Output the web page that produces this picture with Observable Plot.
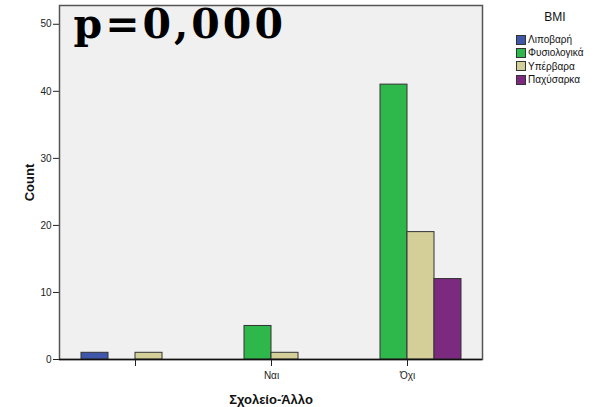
<!DOCTYPE html>
<html>
<head>
<meta charset="utf-8">
<script src="https://cdn.jsdelivr.net/npm/d3@7"></script>
<script src="https://cdn.jsdelivr.net/npm/@observablehq/plot@0.6"></script>
<style>
  html, body { margin: 0; padding: 0; background: #fff; }
  #wrap { position: relative; width: 598px; height: 407px; font-family: "Liberation Sans", Arial, sans-serif; }
  #legend { position: absolute; left: 516px; top: 10px; font-size: 10px; color: #111; }
  #legend .ttl { font-size: 12px; text-align: center; width: 70px; margin-left: 4px; margin-bottom: 9px; }
  #legend .item { display: flex; align-items: center; height: 13.3px; }
  #legend .sw { width: 10px; height: 10px; border: 1px solid #333; margin-right: 2px; box-sizing: border-box; }
  g[aria-label="y-axis label"] text, g[aria-label="x-axis label"] text { font-weight: bold; font-size: 13px; fill: #111; }
  .ptitle text { letter-spacing: 3px; }
</style>
</head>
<body>
<div id="wrap"></div>
<script>
const categories = ["", "Ναι", "Όχι"];
const series = ["Λιποβαρή", "Φυσιολογικά", "Υπέρβαρα", "Παχύσαρκα"];
const colors = ["#3e57ab", "#2eb84b", "#d4cf98", "#7c2a80"];
const underweight = [1, 0, 0];
const normal = [0, 5, 41];
const overweight = [1, 1, 19];
const obese = [0, 0, 12];
const yTicks = [0, 10, 20, 30, 40, 50];
const title = "p=0,000";

const seriesValues = [underweight, normal, overweight, obese];
const rows = [];
series.forEach((s, i) => categories.forEach((c, j) => rows.push({cat: c, bmi: s, idx: i, count: seriesValues[i][j]})));

const barMarks = series.map((s, i) =>
  Plot.barY(rows.filter(d => d.bmi === s && d.count > 0), {
    x: "cat", y: "count", fill: colors[i], stroke: "#333", strokeWidth: 1,
    insetLeft: i * 27, insetRight: (3 - i) * 27
  })
);

const chart = Plot.plot({
  width: 598,
  height: 407,
  marginTop: 5,
  marginBottom: 48,
  marginLeft: 59,
  marginRight: 116,
  style: { fontFamily: "Liberation Sans, Arial, sans-serif", fontSize: "10px", color: "#222", background: "#fff" },
  x: { domain: categories, paddingInner: 0.206, paddingOuter: 0.158, tickSize: 7, label: "Σχολείο-Άλλο", labelAnchor: "center", labelOffset: 44, tickPadding: 5 },
  y: { domain: [0, 52.8], ticks: yTicks, tickSize: 6, label: "Count", labelArrow: "none", labelAnchor: "center", labelOffset: 35, tickPadding: 2 },
  marks: [
    Plot.frame({ fill: "#f0f0f0", stroke: "#555", strokeWidth: 1.5 }),
    ...barMarks,
    Plot.ruleY([0], { stroke: "#111", strokeWidth: 1.5 }),
    Plot.text([title], { text: d => d, frameAnchor: "top-left", dx: 14, dy: 19, lineAnchor: "middle", textAnchor: "start",
      fontFamily: "DejaVu Serif", fontWeight: "bold", fontSize: 41, fill: "#000", className: "ptitle" })
  ]
});

const wrap = document.getElementById("wrap");
wrap.appendChild(chart);
const leg = document.createElement("div");
leg.id = "legend";
leg.innerHTML = `<div class="ttl">BMI</div>` + series.map((s, i) =>
  `<div class="item"><span class="sw" style="background:${colors[i]}"></span><span>${s}</span></div>`).join("");
wrap.appendChild(leg);
</script>
</body>
</html>
